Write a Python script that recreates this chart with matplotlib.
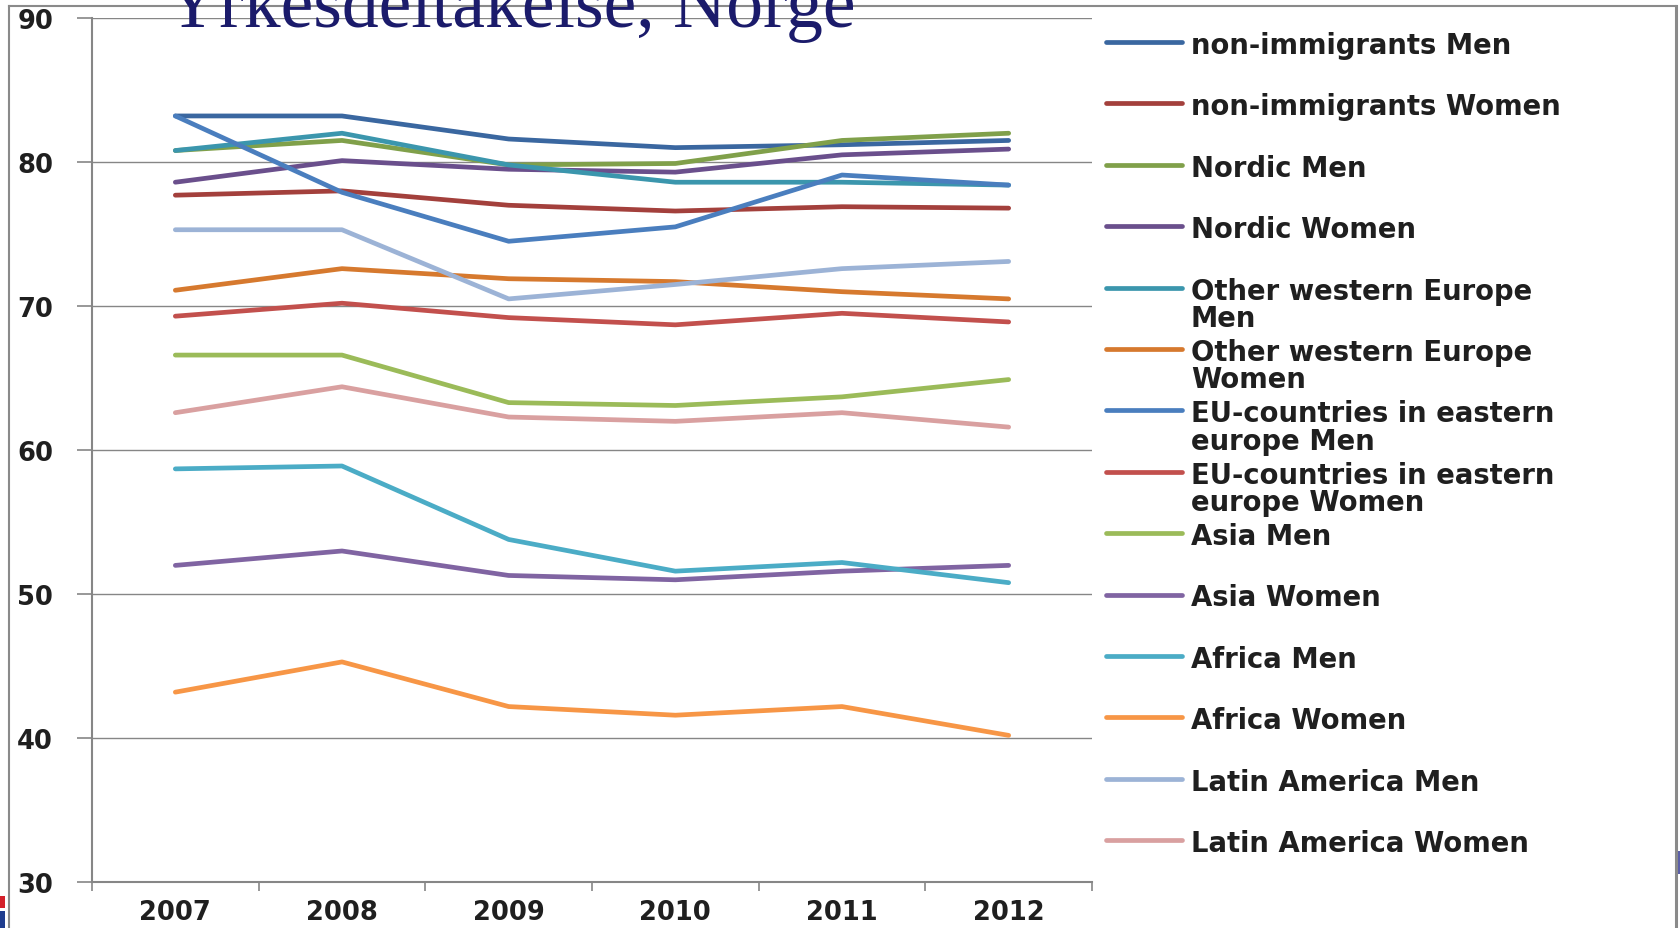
import matplotlib
matplotlib.use("Agg")
import matplotlib.pyplot as plt
import numpy as np
from matplotlib.lines import Line2D
from matplotlib.patches import Rectangle

# ---------------- data ----------------
years = ["2007", "2008", "2009", "2010", "2011", "2012"]

non_imm_men = [83.2, 83.2, 81.6, 81.0, 81.2, 81.5]
non_imm_women = [77.7, 78.0, 77.0, 76.6, 76.9, 76.8]
nordic_men = [80.8, 81.5, 79.8, 79.9, 81.5, 82.0]
nordic_women = [78.6, 80.1, 79.5, 79.3, 80.5, 80.9]
ow_europe_men = [80.8, 82.0, 79.8, 78.6, 78.6, 78.4]
ow_europe_women = [71.1, 72.6, 71.9, 71.7, 71.0, 70.5]
eu_east_men = [83.2, 77.9, 74.5, 75.5, 79.1, 78.4]
eu_east_women = [69.3, 70.2, 69.2, 68.7, 69.5, 68.9]
asia_men = [66.6, 66.6, 63.3, 63.1, 63.7, 64.9]
asia_women = [52.0, 53.0, 51.3, 51.0, 51.6, 52.0]
africa_men = [58.7, 58.9, 53.8, 51.6, 52.2, 50.8]
africa_women = [43.2, 45.3, 42.2, 41.6, 42.2, 40.2]
latam_men = [75.3, 75.3, 70.5, 71.5, 72.6, 73.1]
latam_women = [62.6, 64.4, 62.3, 62.0, 62.6, 61.6]

labels = [
    "non-immigrants Men", "non-immigrants Women", "Nordic Men", "Nordic Women",
    "Other western Europe\nMen", "Other western Europe\nWomen",
    "EU-countries in eastern\neurope Men", "EU-countries in eastern\neurope Women",
    "Asia Men", "Asia Women", "Africa Men", "Africa Women",
    "Latin America Men", "Latin America Women",
]
series = [non_imm_men, non_imm_women, nordic_men, nordic_women, ow_europe_men,
          ow_europe_women, eu_east_men, eu_east_women, asia_men, asia_women,
          africa_men, africa_women, latam_men, latam_women]
colors = ["#3A67A0", "#A3403C", "#80A04A", "#6A4F8C", "#3B96AD", "#D6792E",
          "#4A7EBE", "#C2504D", "#9BBB59", "#8064A2", "#4BACC6", "#F79646",
          "#9CB3D6", "#D9A0A0"]
y_ticks = [30, 40, 50, 60, 70, 80, 90]

# ---------------- figure ----------------
W, H = 1681, 929
fig = plt.figure(figsize=(W / 100, H / 100), dpi=100)
fig.patch.set_facecolor("white")


def fx(x):
    return x / W


def fy(y):
    return 1 - y / H


ax_left, ax_right, ax_top, ax_bottom = 92, 1092, 19, 883.3
ax = fig.add_axes([fx(ax_left), fy(ax_bottom), (ax_right - ax_left) / W,
                   (ax_bottom - ax_top) / H])

grid_col = "#868686"
txt_col = "#1f1f1f"
xs = np.arange(len(years))
for vals, col in zip(series, colors):
    ax.plot(xs, vals, color=col, lw=3.4, solid_capstyle="round",
            solid_joinstyle="round", clip_on=False)

ax.set_xlim(-0.5, len(years) - 0.5)
ax.set_ylim(30, 90)
ax.set_yticks(y_ticks)
ax.set_yticklabels([str(v) for v in y_ticks])
ax.yaxis.grid(True, color=grid_col, lw=1.0)
ax.set_axisbelow(True)

ax.set_xticks(np.arange(-0.5, len(years), 1.0))
ax.set_xticklabels([])
ax.set_xticks(xs, minor=True)
ax.set_xticklabels(years, minor=True)

for s in ["top", "right"]:
    ax.spines[s].set_visible(False)
for s in ["left", "bottom"]:
    ax.spines[s].set_color(grid_col)
    ax.spines[s].set_linewidth(1.5)

ax.tick_params(axis="y", which="major", length=11, width=1.2, color=grid_col,
               pad=17, labelsize=18.5, labelcolor=txt_col)
ax.tick_params(axis="x", which="major", length=6.5, width=1.2, color=grid_col,
               direction="out")
ax.tick_params(axis="x", which="minor", length=0, pad=12, labelsize=18.5,
               labelcolor=txt_col)
for t in ax.get_yticklabels() + ax.get_xticklabels(minor=True):
    t.set_fontweight("bold")
    t.set_family("DejaVu Sans")

# ---------------- legend (manual) ----------------
leg_x0, leg_x1, leg_tx = 1106, 1182, 1191
leg_y0, leg_dy, line_dy = 42.9, 61.4, 27.5
for i, (lab, col) in enumerate(zip(labels, colors)):
    yc = leg_y0 + i * leg_dy
    fig.add_artist(Line2D([fx(leg_x0), fx(leg_x1)], [fy(yc), fy(yc)],
                          color=col, lw=3.4, solid_capstyle="round"))
    for j, part in enumerate(lab.split("\n")):
        fig.text(fx(leg_tx), fy(yc + j * line_dy), part, ha="left",
                 va="center_baseline", fontsize=19.8, fontweight="bold",
                 family="DejaVu Sans", color=txt_col)

# ---------------- frame & decorations ----------------
frame_col = "#8a8a8a"
fig.add_artist(Line2D([fx(9), fx(9)], [fy(7), fy(H)], color=frame_col, lw=1.5))
fig.add_artist(Line2D([fx(9), fx(1676)], [fy(7), fy(7)], color=frame_col, lw=1.5))
fig.add_artist(Line2D([fx(1676), fx(1676)], [fy(7), fy(H)], color=frame_col, lw=2.2))

fig.add_artist(Rectangle((0, fy(909)), fx(5), (909 - 897) / H,
                         color="#d4202a", lw=0))
fig.add_artist(Rectangle((0, 0), fx(5), (H - 912) / H, color="#1f3d8f", lw=0))
fig.add_artist(Rectangle((fx(1678), fy(875)), fx(4), (875 - 852) / H,
                         color="#5a5ea8", lw=0))

fig.text(fx(166), fy(27), "Yrkesdeltakelse, Norge", ha="left", va="baseline",
         fontsize=53, family="Liberation Serif", color="#1b1b6b", zorder=10)

fig.savefig("out.png", dpi=100, facecolor="white")
